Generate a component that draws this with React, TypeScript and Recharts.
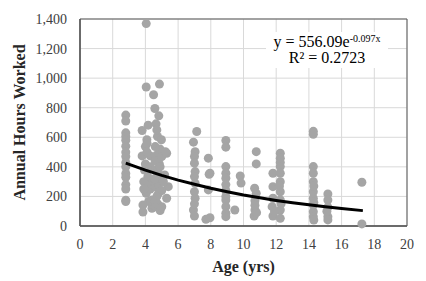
import {
  ComposedChart,
  Scatter,
  XAxis,
  YAxis,
  CartesianGrid,
  ReferenceArea,
  Label,
} from "recharts"

// age (yrs) and annual hours for each observation, read column by column
const ages = [
  2.8, 2.8, 2.8, 2.8, 2.8, 2.8, 2.8, 2.8, 2.8, 2.8, 2.8, 2.8, 2.8, 2.8, 2.8, 2.8,
  4.05, 4.05, 4.17, 3.8, 4.09, 4.0, 3.8, 4.3, 3.94, 4.15, 4.2, 4.05, 4.2, 3.85, 3.85, 4.4, 4.4, 4.0, 4.1, 3.9, 4.3, 4.1, 4.3, 3.9,
  4.86, 4.5, 4.58, 4.82, 4.65, 4.74, 4.98, 4.6, 5.3, 4.8, 4.6, 5.18, 4.6, 5.4, 4.8, 5.3, 4.6, 4.9, 4.7, 4.9, 4.7, 4.85, 4.6, 4.75,
  4.9, 4.7, 4.8, 5.0, 4.7, 4.6, 4.75, 5.0, 4.9, 5.1, 4.55, 5.0, 5.22,
  7.14, 6.94, 7.04, 7.0, 7.0, 7.04, 7.0, 7.04, 7.0, 7.04, 6.94, 7.0, 7.0,
  7.85, 7.95, 7.85, 7.95, 7.7, 7.9,
  8.92, 8.92, 8.92, 8.92, 8.92, 8.92, 8.92, 8.92, 8.92, 8.92, 8.92, 8.92, 9.47,
  9.8, 9.85,
  10.78, 10.78, 10.68, 10.78, 10.7, 10.7, 10.65, 10.8, 10.7,
  12.25, 12.25, 12.25, 12.25, 11.8, 12.25, 12.25, 11.8, 12.25, 11.8, 12.25, 11.75, 12.25, 11.8, 12.25, 12.2, 12.3, 11.9,
  14.27, 14.27, 14.27, 14.27, 14.27, 14.27, 14.27, 14.27, 14.27, 14.27, 14.3, 14.3, 14.3,
  15.16, 15.16, 15.16, 15.16, 15.16, 15.1,
  17.24, 17.24,
]

const hours = [
  750, 710, 630, 605, 580, 540, 500, 470, 430, 400, 355, 330, 280, 250, 175, 165,
  1369, 940, 682, 646, 583, 537, 474, 474, 379, 334, 289, 221, 166, 142, 95, 176, 120, 420, 500, 300, 250, 560, 400, 250,
  960, 888, 795, 745, 691, 605, 583, 537, 492, 452, 379, 345, 266, 266, 221, 188, 131, 104, 650, 520, 480, 420, 440, 360,
  320, 300, 280, 240, 200, 170, 150, 130, 400, 300, 320, 470, 503,
  639, 567, 503, 470, 425, 368, 334, 289, 232, 188, 108, 68, 150,
  459, 357, 244, 56, 45, 350,
  578, 533, 402, 357, 323, 280, 240, 200, 176, 131, 86, 63, 108,
  338, 290,
  503, 420, 255, 221, 171, 108, 68, 90, 140,
  492, 459, 430, 402, 357, 357, 300, 266, 232, 188, 176, 131, 108, 68, 52, 270, 150, 100,
  640, 620, 402, 357, 300, 232, 188, 142, 97, 63, 270, 160, 40,
  217, 176, 127, 63, 41, 100,
  296, 14,
]

// exponential trend line as drawn on the chart
const trendAges = [2.8, 4, 5, 6, 7, 8, 9, 10, 11, 12, 13, 14, 15, 16, 17.3]
const trendHours = [425, 378, 342, 310, 282, 255, 232, 210, 191, 173, 157, 143, 130, 118, 104]

const xTicks = [0, 2, 4, 6, 8, 10, 12, 14, 16, 18, 20]
const yTicks = [0, 200, 400, 600, 800, 1000, 1200, 1400]

const points = ages.map((age, i) => ({ age, hours: hours[i] }))
const trend = trendAges.map((age, i) => ({ age, hours: trendHours[i] }))

const FONT = "Liberation Serif, DejaVu Serif, serif"

export default function App() {
  return (
    <div style={{ position: "absolute", left: 0, top: 0, width: 426, height: 281, background: "#fff", fontFamily: FONT }}>
      <ComposedChart width={426} height={281} margin={{ top: 19, right: 19, left: 0, bottom: 0 }} style={{ fontFamily: FONT }}>
        <CartesianGrid stroke="#d9d9d9" strokeWidth={1} />
        <XAxis
          dataKey="age"
          type="number"
          domain={[0, 20]}
          ticks={xTicks}
          axisLine={{ stroke: "#595959", strokeWidth: 1.5 }}
          tickLine={false}
          tickMargin={7}
          tick={{ fontSize: 14, fill: "#404040", fontFamily: FONT }}
          height={55}
        >
          <Label
            value="Age (yrs)"
            position="insideBottom"
            offset={9}
            fontFamily={FONT}
            style={{ fontSize: 16, fontWeight: "bold", fill: "#262626", fontFamily: FONT }}
          />
        </XAxis>
        <YAxis
          dataKey="hours"
          type="number"
          domain={[0, 1400]}
          ticks={yTicks}
          tickFormatter={(v: number) => v.toLocaleString("en-US")}
          axisLine={{ stroke: "#595959", strokeWidth: 1.5 }}
          tickLine={false}
          tickMargin={7}
          tick={{ fontSize: 14, fill: "#404040", fontFamily: FONT }}
          width={80}
        >
          <Label
            content={(props: any) => {
              const vb = props.viewBox
              const cx = 19
              const cy = vb.y + vb.height / 2
              return (
                <text
                  x={cx}
                  y={cy}
                  transform={`rotate(-90, ${cx}, ${cy})`}
                  textAnchor="middle"
                  dominantBaseline="central"
                  fontFamily={FONT}
                  fontSize={16}
                  fontWeight="bold"
                  fill="#262626"
                >
                  Annual Hours Worked
                </text>
              )
            }}
          />
        </YAxis>
        <ReferenceArea x1={0} x2={20} y1={0} y2={1400} fill="none" stroke="#595959" strokeWidth={1} />
        <Scatter data={points} fill="#a5a5a5" isAnimationActive={false} shape={(p: any) => <circle cx={p.cx} cy={p.cy} r={4.5} fill="#a5a5a5" />} />
        <Scatter
          data={trend}
          line={{ stroke: "#000", strokeWidth: 3 }}
          lineType="joint"
          shape={() => <g />}
          isAnimationActive={false}
        />
      </ComposedChart>
      <div
        style={{
          position: "absolute",
          left: 266,
          top: 32,
          width: 122,
          background: "#fff",
          textAlign: "center",
          fontSize: 16,
          lineHeight: "16px",
          color: "#000",
          padding: "2px 0",
          fontFamily: FONT,
        }}
      >
        <div>
          y = 556.09e<sup style={{ fontSize: 10, verticalAlign: "top", lineHeight: "10px" }}>-0.097x</sup>
        </div>
        <div>R² = 0.2723</div>
      </div>
    </div>
  )
}
